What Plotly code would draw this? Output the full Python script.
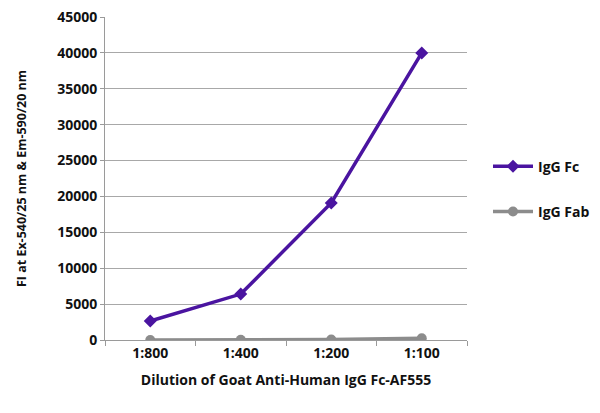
import plotly.graph_objects as go

# dilution series (x categories)
dilutions = ["1:800", "1:400", "1:200", "1:100"]

# fluorescence intensity readings
igg_fc = [2650, 6400, 19100, 40000]
igg_fab = [0, 30, 80, 250]

purple = "#4A14A0"
grey = "#8C8C8C"
font_family = "Open Sans, DejaVu Sans, sans-serif"

fig = go.Figure()

fig.add_trace(go.Scatter(
    x=dilutions, y=igg_fc, name="IgG Fc", mode="lines+markers",
    line=dict(color=purple, width=3.5),
    marker=dict(symbol="diamond", size=10, color=purple),
    legendgroup="fc",
))
fig.add_trace(go.Scatter(
    x=dilutions, y=igg_fab, name="IgG Fab", mode="lines+markers",
    line=dict(color=grey, width=3.5),
    marker=dict(symbol="circle", size=10, color=grey),
    legendgroup="fab",
))

# the page body adds a small offset, so the figure is sized a bit under the window
fig.update_layout(
    width=596, height=405,
    margin=dict(l=97, r=125, t=9, b=73),
    paper_bgcolor="white", plot_bgcolor="white",
    font=dict(family=font_family, size=13, color="#111111"),
    showlegend=True,
    legend=dict(
        x=1.058, y=0.467, xanchor="left", yanchor="middle",
        font=dict(size=14, color="#111111", weight="bold"),
        tracegroupgap=24, itemwidth=40,
    ),
)

fig.update_xaxes(
    type="category", range=[-0.5, 3.5], automargin=False,
    showline=True, linecolor="#9a9a9a", linewidth=1,
    ticks="outside", ticklen=5, tickcolor="#9a9a9a",
    tickson="boundaries",
    tickfont=dict(size=14, weight="bold"),
    title=dict(text="Dilution of Goat Anti-Human IgG Fc-AF555",
               font=dict(size=14, weight="bold"), standoff=14),
    showgrid=False,
)
fig.update_yaxes(
    range=[0, 45000], tick0=0, dtick=5000, tickformat="d",
    automargin=False, ticklabeloverflow="allow",
    showline=True, linecolor="#9a9a9a", linewidth=1,
    ticks="outside", ticklen=4, tickcolor="#9a9a9a",
    showgrid=True, gridcolor="#a8a8a8", gridwidth=1,
    zeroline=False,
    tickfont=dict(size=14, weight="bold"),
    title=dict(text="FI at Ex-540/25 nm & Em-590/20 nm",
               font=dict(size=12.5, weight="bold"), standoff=27),
)

fig.write_html("out.html")
